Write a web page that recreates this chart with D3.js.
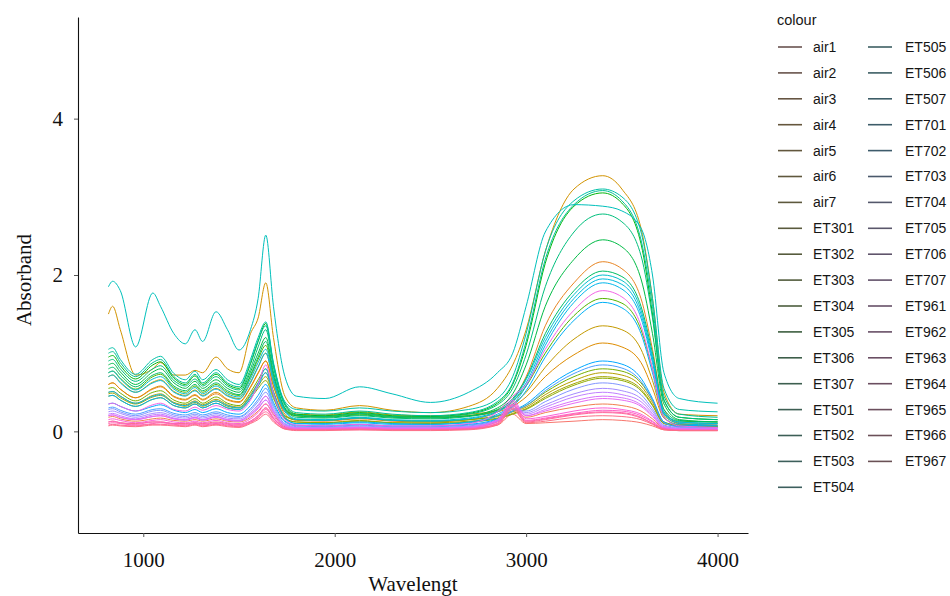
<!doctype html>
<html>
<head>
<meta charset="utf-8"/>
<script src="https://cdnjs.cloudflare.com/ajax/libs/d3/7.8.5/d3.min.js"></script>
<style>
  body { margin: 0; background: #fff; }
  svg { display: block; }
  .axis text { font-family: "Liberation Serif", "Times New Roman", serif; font-size: 21px; fill: #111; }
  .axis path { stroke: #111; stroke-width: 1.1px; }
  .axis line { stroke: #555; }
  .title { font-family: "Liberation Serif", "Times New Roman", serif; font-size: 21px; fill: #111; }
  .legend text { font-family: "Liberation Sans", Arial, sans-serif; font-size: 14px; fill: #161616; }
  .spec { fill: none; stroke-width: 1px; }
</style>
</head>
<body>
<svg width="950" height="596"></svg>
<script>
// wavelength grid (shared by every spectrum)
var wavelength = [818, 840, 880, 960, 1050, 1090, 1160, 1220, 1270, 1310, 1380, 1440, 1500, 1560, 1600, 1640, 1680, 1740, 1800, 1950, 2130, 2300, 2500, 2700, 2850, 2930, 3000, 3100, 3250, 3400, 3500, 3600, 3660, 3720, 3800, 4000];

var sampleNames = ["air1","air2","air3","air4","air5","air6","air7",
  "ET301","ET302","ET303","ET304","ET305","ET306","ET307",
  "ET501","ET502","ET503","ET504","ET505","ET506","ET507",
  "ET701","ET702","ET703","ET704","ET705","ET706","ET707",
  "ET961","ET962","ET963","ET964","ET965","ET966","ET967"];

var air1 = [0.12,0.13,0.11,0.10,0.12,0.12,0.10,0.10,0.11,0.10,0.12,0.10,0.09,0.13,0.20,0.30,0.17,0.05,0.03,0.03,0.04,0.03,0.03,0.04,0.08,0.22,0.10,0.11,0.13,0.15,0.14,0.11,0.07,0.02,0.01,0.01];
var air2 = [0.18,0.19,0.16,0.13,0.16,0.17,0.14,0.13,0.15,0.13,0.16,0.13,0.12,0.18,0.26,0.35,0.22,0.06,0.04,0.04,0.05,0.04,0.04,0.05,0.12,0.30,0.18,0.24,0.31,0.35,0.33,0.26,0.16,0.04,0.02,0.02];
var air3 = [0.60,0.62,0.54,0.43,0.54,0.57,0.44,0.40,0.46,0.40,0.48,0.40,0.37,0.56,0.74,0.90,0.58,0.22,0.14,0.13,0.16,0.13,0.12,0.15,0.25,0.40,0.70,1.35,1.90,2.17,2.08,1.70,1.05,0.28,0.10,0.08];
var air4 = [0.60,0.62,0.54,0.43,0.55,0.58,0.45,0.41,0.47,0.41,0.50,0.41,0.38,0.57,0.75,0.90,0.58,0.25,0.20,0.19,0.23,0.19,0.18,0.20,0.25,0.32,0.44,0.70,0.98,1.13,1.08,0.88,0.55,0.17,0.09,0.08];
var air5 = [1.50,1.60,1.30,0.72,0.80,0.88,0.72,0.72,0.78,0.75,0.95,0.80,0.75,1.25,1.45,1.90,1.20,0.45,0.30,0.27,0.33,0.27,0.24,0.32,0.55,0.85,1.30,2.30,3.10,3.27,3.10,2.60,1.70,0.50,0.22,0.20];
var air6 = [0.70,0.72,0.63,0.50,0.63,0.66,0.51,0.46,0.53,0.46,0.55,0.46,0.42,0.63,0.83,1.00,0.64,0.27,0.22,0.21,0.25,0.21,0.20,0.22,0.27,0.35,0.50,0.82,1.18,1.35,1.30,1.05,0.65,0.20,0.11,0.10];
var air7 = [0.50,0.51,0.45,0.36,0.46,0.48,0.37,0.34,0.39,0.34,0.41,0.34,0.31,0.47,0.62,0.75,0.48,0.19,0.15,0.14,0.17,0.14,0.13,0.15,0.19,0.25,0.31,0.47,0.65,0.75,0.72,0.58,0.37,0.11,0.07,0.06];
var ET301 = [0.48,0.49,0.43,0.35,0.44,0.46,0.36,0.32,0.37,0.32,0.39,0.32,0.30,0.45,0.58,0.70,0.45,0.17,0.12,0.11,0.14,0.11,0.11,0.13,0.17,0.23,0.29,0.44,0.61,0.70,0.67,0.54,0.34,0.10,0.07,0.06];
var ET302 = [0.45,0.46,0.40,0.32,0.41,0.43,0.33,0.30,0.35,0.30,0.36,0.30,0.28,0.42,0.55,0.65,0.42,0.16,0.12,0.11,0.13,0.11,0.10,0.12,0.16,0.22,0.28,0.42,0.59,0.68,0.65,0.52,0.33,0.10,0.07,0.06];
var ET303 = [0.55,0.56,0.49,0.39,0.50,0.52,0.40,0.36,0.42,0.36,0.44,0.36,0.33,0.50,0.66,0.80,0.51,0.20,0.15,0.14,0.17,0.14,0.13,0.15,0.20,0.26,0.33,0.50,0.70,0.80,0.77,0.62,0.40,0.12,0.08,0.07];
var ET304 = [0.75,0.77,0.68,0.54,0.70,0.73,0.56,0.50,0.58,0.50,0.60,0.50,0.46,0.70,0.92,1.10,0.70,0.28,0.20,0.19,0.22,0.19,0.18,0.20,0.27,0.38,0.58,1.00,1.48,1.70,1.64,1.30,0.80,0.22,0.13,0.12];
var ET305 = [0.95,0.97,0.84,0.67,0.85,0.89,0.68,0.60,0.71,0.60,0.73,0.60,0.55,0.86,1.15,1.38,0.86,0.35,0.22,0.20,0.24,0.20,0.19,0.23,0.36,0.60,1.10,2.15,2.88,3.05,2.92,2.40,1.50,0.40,0.18,0.15];
var ET306 = [0.85,0.87,0.76,0.60,0.76,0.80,0.62,0.55,0.64,0.55,0.66,0.55,0.50,0.76,1.00,1.20,0.76,0.30,0.20,0.18,0.21,0.18,0.17,0.20,0.30,0.48,0.85,1.60,2.20,2.45,2.36,1.95,1.25,0.35,0.15,0.12];
var ET307 = [0.80,0.82,0.72,0.57,0.72,0.75,0.58,0.52,0.60,0.52,0.62,0.52,0.47,0.72,0.95,1.15,0.72,0.29,0.18,0.17,0.20,0.17,0.16,0.19,0.28,0.42,0.68,1.25,1.80,2.05,1.98,1.60,1.00,0.28,0.14,0.12];
var ET501 = [0.90,0.92,0.80,0.64,0.80,0.84,0.65,0.58,0.67,0.58,0.70,0.58,0.53,0.80,1.08,1.30,0.82,0.33,0.21,0.19,0.23,0.19,0.18,0.22,0.34,0.55,0.98,1.85,2.55,2.78,2.68,2.25,1.45,0.40,0.18,0.15];
var ET502 = [1.00,1.02,0.88,0.70,0.88,0.92,0.70,0.62,0.73,0.62,0.75,0.62,0.57,0.88,1.16,1.35,0.85,0.36,0.24,0.22,0.26,0.22,0.20,0.24,0.38,0.62,1.15,2.20,2.90,3.08,2.95,2.45,1.60,0.45,0.22,0.18];
var ET503 = [1.05,1.07,0.92,0.73,0.92,0.96,0.74,0.66,0.77,0.66,0.79,0.66,0.60,0.92,1.20,1.40,0.88,0.38,0.28,0.26,0.30,0.26,0.24,0.28,0.42,0.70,1.25,2.30,2.95,3.10,3.00,2.55,1.70,0.55,0.28,0.25];
var ET504 = [1.85,1.92,1.80,1.08,1.77,1.60,1.25,1.12,1.30,1.15,1.53,1.30,1.04,1.30,1.70,2.51,1.60,0.70,0.45,0.42,0.57,0.48,0.37,0.50,0.75,1.00,1.60,2.55,2.90,2.88,2.82,2.60,2.00,0.75,0.42,0.36];
var ET505 = [0.75,0.77,0.67,0.53,0.67,0.70,0.54,0.48,0.56,0.48,0.58,0.48,0.44,0.67,0.88,1.05,0.67,0.27,0.16,0.15,0.18,0.15,0.14,0.17,0.26,0.40,0.66,1.20,1.75,2.00,1.93,1.55,0.95,0.25,0.12,0.10];
var ET506 = [0.70,0.72,0.62,0.50,0.62,0.65,0.50,0.45,0.52,0.45,0.54,0.45,0.41,0.62,0.82,1.00,0.63,0.25,0.15,0.14,0.17,0.14,0.13,0.16,0.25,0.38,0.62,1.15,1.70,1.95,1.88,1.50,0.92,0.24,0.12,0.10];
var ET507 = [0.50,0.51,0.45,0.36,0.45,0.47,0.36,0.33,0.38,0.33,0.39,0.33,0.30,0.45,0.62,0.80,0.50,0.18,0.10,0.10,0.12,0.10,0.09,0.12,0.22,0.34,0.58,1.10,1.65,1.90,1.82,1.45,0.88,0.22,0.10,0.08];
var ET701 = [0.45,0.46,0.40,0.32,0.41,0.43,0.33,0.30,0.35,0.30,0.36,0.30,0.28,0.42,0.58,0.75,0.46,0.16,0.10,0.09,0.11,0.09,0.09,0.11,0.20,0.32,0.52,0.95,1.42,1.65,1.58,1.25,0.75,0.18,0.08,0.07];
var ET702 = [0.35,0.36,0.32,0.26,0.32,0.34,0.27,0.24,0.28,0.24,0.29,0.24,0.22,0.33,0.46,0.60,0.37,0.13,0.08,0.07,0.09,0.07,0.07,0.09,0.16,0.26,0.35,0.55,0.78,0.90,0.86,0.68,0.42,0.12,0.06,0.05];
var ET703 = [0.30,0.31,0.27,0.22,0.28,0.29,0.23,0.21,0.24,0.21,0.25,0.21,0.19,0.29,0.41,0.55,0.34,0.12,0.07,0.06,0.08,0.06,0.06,0.08,0.15,0.26,0.33,0.52,0.74,0.85,0.81,0.64,0.40,0.11,0.06,0.05];
var ET704 = [0.28,0.29,0.25,0.20,0.26,0.27,0.21,0.19,0.22,0.19,0.23,0.19,0.18,0.27,0.38,0.50,0.31,0.10,0.06,0.05,0.07,0.05,0.05,0.07,0.14,0.28,0.26,0.38,0.54,0.62,0.59,0.47,0.29,0.08,0.05,0.04];
var ET705 = [0.25,0.26,0.23,0.18,0.23,0.24,0.19,0.17,0.20,0.17,0.21,0.17,0.16,0.24,0.34,0.45,0.28,0.09,0.05,0.05,0.06,0.05,0.05,0.06,0.13,0.30,0.24,0.34,0.48,0.55,0.52,0.42,0.26,0.07,0.04,0.04];
var ET706 = [0.22,0.23,0.20,0.16,0.21,0.22,0.17,0.15,0.18,0.15,0.19,0.15,0.14,0.22,0.30,0.40,0.25,0.08,0.05,0.04,0.05,0.04,0.04,0.06,0.14,0.32,0.22,0.31,0.44,0.50,0.47,0.38,0.23,0.06,0.04,0.03];
var ET707 = [0.20,0.21,0.18,0.15,0.19,0.20,0.16,0.14,0.17,0.14,0.18,0.14,0.13,0.20,0.29,0.40,0.24,0.07,0.04,0.04,0.05,0.04,0.04,0.05,0.14,0.34,0.20,0.28,0.39,0.45,0.43,0.34,0.21,0.05,0.03,0.03];
var ET961 = [0.20,0.21,0.18,0.15,0.19,0.20,0.16,0.15,0.18,0.15,0.19,0.15,0.14,0.22,0.32,0.45,0.26,0.07,0.04,0.04,0.05,0.04,0.04,0.05,0.15,0.40,0.20,0.26,0.36,0.42,0.40,0.32,0.19,0.05,0.03,0.03];
var ET962 = [0.35,0.36,0.32,0.26,0.34,0.36,0.28,0.26,0.31,0.27,0.33,0.28,0.26,0.40,0.60,0.85,0.48,0.15,0.08,0.07,0.09,0.07,0.07,0.10,0.25,0.45,0.60,1.05,1.55,1.80,1.72,1.35,0.80,0.18,0.07,0.05];
var ET963 = [0.15,0.16,0.14,0.11,0.14,0.15,0.12,0.11,0.13,0.11,0.14,0.11,0.10,0.16,0.24,0.35,0.20,0.05,0.03,0.03,0.04,0.03,0.03,0.04,0.12,0.38,0.16,0.19,0.26,0.30,0.28,0.22,0.13,0.04,0.02,0.02];
var ET964 = [0.12,0.13,0.11,0.09,0.12,0.12,0.10,0.09,0.11,0.09,0.11,0.09,0.08,0.13,0.20,0.30,0.17,0.04,0.02,0.02,0.03,0.02,0.02,0.03,0.10,0.35,0.14,0.17,0.23,0.27,0.26,0.20,0.12,0.03,0.02,0.02];
var ET965 = [0.10,0.11,0.10,0.08,0.10,0.11,0.09,0.08,0.10,0.08,0.10,0.08,0.07,0.12,0.18,0.28,0.16,0.04,0.02,0.02,0.03,0.02,0.02,0.03,0.10,0.33,0.13,0.16,0.22,0.25,0.24,0.18,0.10,0.03,0.01,0.01];
var ET966 = [0.08,0.09,0.08,0.07,0.09,0.09,0.08,0.07,0.09,0.07,0.09,0.07,0.06,0.11,0.17,0.25,0.14,0.03,0.02,0.02,0.02,0.02,0.02,0.03,0.09,0.30,0.12,0.15,0.21,0.24,0.23,0.17,0.10,0.03,0.01,0.01];
var ET967 = [0.07,0.08,0.07,0.06,0.08,0.08,0.07,0.06,0.08,0.06,0.08,0.06,0.05,0.10,0.15,0.22,0.12,0.03,0.01,0.01,0.02,0.01,0.01,0.02,0.08,0.28,0.11,0.13,0.18,0.20,0.19,0.15,0.09,0.02,0.01,0.01];

var xTicks = [1000, 2000, 3000, 4000];
var yTicks = [0, 2, 4];

var seriesValues = [air1, air2, air3, air4, air5, air6, air7,
  ET301, ET302, ET303, ET304, ET305, ET306, ET307,
  ET501, ET502, ET503, ET504, ET505, ET506, ET507,
  ET701, ET702, ET703, ET704, ET705, ET706, ET707,
  ET961, ET962, ET963, ET964, ET965, ET966, ET967];

var series = sampleNames.map(function(n, i) {
  return { name: n, points: wavelength.map(function(w, j) { return { w: w, v: seriesValues[i][j] }; }) };
});

// ggplot default hue palette (polar LUV)
function hclLuv(h, c, l) {
  var hr = h * Math.PI / 180;
  var U = c * Math.cos(hr), V = c * Math.sin(hr);
  var Xn = 95.047, Yn = 100, Zn = 108.883;
  var den = Xn + 15 * Yn + 3 * Zn, un = 4 * Xn / den, vn = 9 * Yn / den;
  var Y = Yn * Math.pow((l + 16) / 116, 3);
  var up = U / (13 * l) + un, vp = V / (13 * l) + vn;
  var X = Y * 9 * up / (4 * vp), Z = Y * (12 - 3 * up - 20 * vp) / (4 * vp);
  X /= 100; Y /= 100; Z /= 100;
  var r = 3.2404542 * X - 1.5371385 * Y - 0.4985314 * Z;
  var g = -0.9692660 * X + 1.8760108 * Y + 0.0415560 * Z;
  var b = 0.0556434 * X - 0.2040259 * Y + 1.0572252 * Z;
  function gam(u) {
    u = u <= 0.0031308 ? 12.92 * u : 1.055 * Math.pow(u, 1 / 2.4) - 0.055;
    return Math.round(255 * Math.max(0, Math.min(1, u)));
  }
  return d3.rgb(gam(r), gam(g), gam(b)).formatHex();
}
var palette = sampleNames.map(function(n, i) { return hclLuv(15 + i * 360 / sampleNames.length, 100, 65); });
var colour = d3.scaleOrdinal().domain(sampleNames).range(palette);

var svg = d3.select("svg");
var x = d3.scaleLinear().domain([659, 4159]).range([78, 748]);
var y = d3.scaleLinear().domain([-1.3, 5.3]).range([533, 17]);

var line = d3.line()
  .x(function(d) { return x(d.w); })
  .y(function(d) { return y(d.v); })
  .curve(d3.curveMonotoneX);

svg.append("g")
  .selectAll("path")
  .data(series)
  .enter()
  .append("path")
  .attr("class", "spec")
  .attr("stroke", function(d) { return colour(d.name); })
  .attr("d", function(d) { return line(d.points); });

svg.append("g")
  .attr("class", "axis")
  .attr("transform", "translate(0,533)")
  .call(d3.axisBottom(x).tickValues(xTicks).tickFormat(d3.format("d"))
    .tickSize(4).tickSizeOuter(0).tickPadding(15));

svg.append("g")
  .attr("class", "axis")
  .attr("transform", "translate(78,0)")
  .call(d3.axisLeft(y).tickValues(yTicks).tickFormat(d3.format("d"))
    .tickSize(4).tickSizeOuter(0).tickPadding(11));

svg.append("text")
  .attr("class", "title")
  .attr("x", 413)
  .attr("y", 591)
  .attr("text-anchor", "middle")
  .text("Wavelengt");

svg.append("text")
  .attr("class", "title")
  .attr("transform", "translate(31,280) rotate(-90)")
  .attr("text-anchor", "middle")
  .text("Absorband");

// legend, two columns filled top to bottom
var perCol = 18, rowH = 25.9;
var legend = svg.append("g").attr("class", "legend");
legend.append("text")
  .attr("x", 777)
  .attr("y", 25)
  .style("font-size", "14.5px")
  .text("colour");

var item = legend.selectAll("g.item")
  .data(sampleNames)
  .enter()
  .append("g")
  .attr("class", "item")
  .attr("transform", function(d, i) {
    var col = Math.floor(i / perCol), row = i % perCol;
    return "translate(" + (778 + col * 90) + "," + (47 + row * rowH) + ")";
  });

item.append("line")
  .attr("x1", 0).attr("x2", 24)
  .attr("stroke", function(d) { return d3.interpolateRgb(colour(d), "#4a4a4a")(0.82); })
  .attr("stroke-width", 1.6);

item.append("text")
  .attr("x", function(d, i) { return i < perCol ? 35 : 37; })
  .attr("dy", "0.35em")
  .text(function(d) { return d; });
</script>
</body>
</html>
